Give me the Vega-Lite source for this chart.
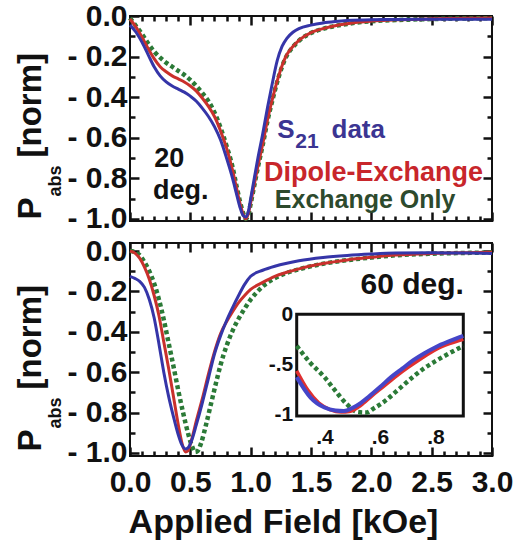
{
  "$schema": "https://vega.github.io/schema/vega-lite/v6.json",
  "padding": {"left": 13, "top": 0, "right": 5, "bottom": 5},
  "background": "white",
  "config": {
    "view": {"stroke": "#111", "strokeWidth": 2},
    "font": "Liberation Sans",
    "axis": {"domain": false, "grid": false, "zindex": 1, "labelFont": "Liberation Sans", "titleFont": "Liberation Sans", "labelFontWeight": "bold", "titleFontWeight": "bold", "labelColor": "#111", "titleColor": "#111", "tickColor": "#111", "tickWidth": 2.5, "labelOverlap": false, "labelFlush": false, "labelBound": false},
    "text": {"font": "Liberation Sans", "fontWeight": "bold"}
  },
  "datasets": {
    "top": [
      {"s":"S21","x":0.00,"y":-0.045},{"s":"S21","x":0.05,"y":-0.08},{"s":"S21","x":0.10,"y":-0.13},{"s":"S21","x":0.15,"y":-0.19},{"s":"S21","x":0.20,"y":-0.25},{"s":"S21","x":0.25,"y":-0.295},{"s":"S21","x":0.30,"y":-0.325},{"s":"S21","x":0.35,"y":-0.345},{"s":"S21","x":0.40,"y":-0.36},{"s":"S21","x":0.45,"y":-0.375},{"s":"S21","x":0.50,"y":-0.395},{"s":"S21","x":0.55,"y":-0.42},{"s":"S21","x":0.60,"y":-0.455},{"s":"S21","x":0.65,"y":-0.495},{"s":"S21","x":0.70,"y":-0.545},{"s":"S21","x":0.75,"y":-0.61},{"s":"S21","x":0.80,"y":-0.70},{"s":"S21","x":0.85,"y":-0.80},{"s":"S21","x":0.88,"y":-0.87},{"s":"S21","x":0.91,"y":-0.94},{"s":"S21","x":0.94,"y":-0.985},{"s":"S21","x":0.96,"y":-0.99},{"s":"S21","x":0.98,"y":-0.965},{"s":"S21","x":1.00,"y":-0.90},{"s":"S21","x":1.03,"y":-0.80},{"s":"S21","x":1.06,"y":-0.70},{"s":"S21","x":1.10,"y":-0.58},{"s":"S21","x":1.14,"y":-0.45},{"s":"S21","x":1.18,"y":-0.33},{"s":"S21","x":1.22,"y":-0.22},{"s":"S21","x":1.26,"y":-0.15},{"s":"S21","x":1.30,"y":-0.11},{"s":"S21","x":1.35,"y":-0.08},{"s":"S21","x":1.40,"y":-0.062},{"s":"S21","x":1.50,"y":-0.045},{"s":"S21","x":1.60,"y":-0.034},{"s":"S21","x":1.70,"y":-0.027},{"s":"S21","x":1.80,"y":-0.022},{"s":"S21","x":2.00,"y":-0.018},{"s":"S21","x":2.20,"y":-0.017},{"s":"S21","x":2.50,"y":-0.016},{"s":"S21","x":2.80,"y":-0.016},{"s":"S21","x":3.00,"y":-0.016},
      {"s":"DE","x":0.00,"y":-0.015},{"s":"DE","x":0.05,"y":-0.055},{"s":"DE","x":0.10,"y":-0.105},{"s":"DE","x":0.15,"y":-0.16},{"s":"DE","x":0.20,"y":-0.21},{"s":"DE","x":0.25,"y":-0.25},{"s":"DE","x":0.30,"y":-0.275},{"s":"DE","x":0.35,"y":-0.295},{"s":"DE","x":0.40,"y":-0.31},{"s":"DE","x":0.45,"y":-0.325},{"s":"DE","x":0.50,"y":-0.345},{"s":"DE","x":0.55,"y":-0.37},{"s":"DE","x":0.60,"y":-0.405},{"s":"DE","x":0.65,"y":-0.445},{"s":"DE","x":0.70,"y":-0.495},{"s":"DE","x":0.75,"y":-0.565},{"s":"DE","x":0.80,"y":-0.65},{"s":"DE","x":0.85,"y":-0.76},{"s":"DE","x":0.88,"y":-0.84},{"s":"DE","x":0.91,"y":-0.92},{"s":"DE","x":0.94,"y":-0.98},{"s":"DE","x":0.96,"y":-1.0},{"s":"DE","x":0.98,"y":-0.975},{"s":"DE","x":1.00,"y":-0.92},{"s":"DE","x":1.03,"y":-0.83},{"s":"DE","x":1.06,"y":-0.74},{"s":"DE","x":1.10,"y":-0.63},{"s":"DE","x":1.14,"y":-0.51},{"s":"DE","x":1.18,"y":-0.41},{"s":"DE","x":1.22,"y":-0.32},{"s":"DE","x":1.26,"y":-0.245},{"s":"DE","x":1.30,"y":-0.19},{"s":"DE","x":1.35,"y":-0.15},{"s":"DE","x":1.40,"y":-0.12},{"s":"DE","x":1.50,"y":-0.082},{"s":"DE","x":1.60,"y":-0.062},{"s":"DE","x":1.70,"y":-0.048},{"s":"DE","x":1.80,"y":-0.038},{"s":"DE","x":1.90,"y":-0.03},{"s":"DE","x":2.00,"y":-0.025},{"s":"DE","x":2.20,"y":-0.019},{"s":"DE","x":2.50,"y":-0.014},{"s":"DE","x":2.80,"y":-0.011},{"s":"DE","x":3.00,"y":-0.01},
      {"s":"EX","x":0.00,"y":-0.01},{"s":"EX","x":0.05,"y":-0.05},{"s":"EX","x":0.10,"y":-0.09},{"s":"EX","x":0.15,"y":-0.135},{"s":"EX","x":0.20,"y":-0.175},{"s":"EX","x":0.25,"y":-0.205},{"s":"EX","x":0.30,"y":-0.23},{"s":"EX","x":0.35,"y":-0.25},{"s":"EX","x":0.40,"y":-0.27},{"s":"EX","x":0.45,"y":-0.29},{"s":"EX","x":0.50,"y":-0.315},{"s":"EX","x":0.55,"y":-0.345},{"s":"EX","x":0.60,"y":-0.38},{"s":"EX","x":0.65,"y":-0.42},{"s":"EX","x":0.70,"y":-0.475},{"s":"EX","x":0.75,"y":-0.55},{"s":"EX","x":0.80,"y":-0.64},{"s":"EX","x":0.85,"y":-0.745},{"s":"EX","x":0.88,"y":-0.83},{"s":"EX","x":0.91,"y":-0.91},{"s":"EX","x":0.94,"y":-0.975},{"s":"EX","x":0.96,"y":-1.0},{"s":"EX","x":0.98,"y":-0.98},{"s":"EX","x":1.00,"y":-0.925},{"s":"EX","x":1.03,"y":-0.835},{"s":"EX","x":1.06,"y":-0.745},{"s":"EX","x":1.10,"y":-0.635},{"s":"EX","x":1.14,"y":-0.515},{"s":"EX","x":1.18,"y":-0.415},{"s":"EX","x":1.22,"y":-0.325},{"s":"EX","x":1.26,"y":-0.25},{"s":"EX","x":1.30,"y":-0.195},{"s":"EX","x":1.35,"y":-0.153},{"s":"EX","x":1.40,"y":-0.122},{"s":"EX","x":1.50,"y":-0.084},{"s":"EX","x":1.60,"y":-0.063},{"s":"EX","x":1.70,"y":-0.049},{"s":"EX","x":1.80,"y":-0.039},{"s":"EX","x":1.90,"y":-0.031},{"s":"EX","x":2.00,"y":-0.026},{"s":"EX","x":2.20,"y":-0.02},{"s":"EX","x":2.50,"y":-0.015},{"s":"EX","x":2.80,"y":-0.012},{"s":"EX","x":3.00,"y":-0.011}
    ],
    "bot": [
      {"s":"S21","x":0.00,"y":-0.125},{"s":"S21","x":0.04,"y":-0.135},{"s":"S21","x":0.08,"y":-0.15},{"s":"S21","x":0.12,"y":-0.18},{"s":"S21","x":0.16,"y":-0.24},{"s":"S21","x":0.20,"y":-0.33},{"s":"S21","x":0.24,"y":-0.46},{"s":"S21","x":0.28,"y":-0.60},{"s":"S21","x":0.32,"y":-0.72},{"s":"S21","x":0.36,"y":-0.82},{"s":"S21","x":0.40,"y":-0.91},{"s":"S21","x":0.43,"y":-0.96},{"s":"S21","x":0.46,"y":-0.98},{"s":"S21","x":0.48,"y":-0.975},{"s":"S21","x":0.51,"y":-0.94},{"s":"S21","x":0.55,"y":-0.86},{"s":"S21","x":0.60,"y":-0.75},{"s":"S21","x":0.65,"y":-0.63},{"s":"S21","x":0.70,"y":-0.51},{"s":"S21","x":0.75,"y":-0.42},{"s":"S21","x":0.80,"y":-0.345},{"s":"S21","x":0.85,"y":-0.28},{"s":"S21","x":0.90,"y":-0.22},{"s":"S21","x":0.95,"y":-0.165},{"s":"S21","x":1.00,"y":-0.125},{"s":"S21","x":1.10,"y":-0.095},{"s":"S21","x":1.20,"y":-0.075},{"s":"S21","x":1.30,"y":-0.06},{"s":"S21","x":1.40,"y":-0.048},{"s":"S21","x":1.60,"y":-0.032},{"s":"S21","x":1.80,"y":-0.022},{"s":"S21","x":2.00,"y":-0.015},{"s":"S21","x":2.20,"y":-0.01},{"s":"S21","x":2.50,"y":-0.008},{"s":"S21","x":2.80,"y":-0.01},{"s":"S21","x":3.00,"y":-0.012},
      {"s":"DE","x":0.00,"y":0.0},{"s":"DE","x":0.04,"y":-0.01},{"s":"DE","x":0.08,"y":-0.035},{"s":"DE","x":0.12,"y":-0.08},{"s":"DE","x":0.16,"y":-0.14},{"s":"DE","x":0.20,"y":-0.22},{"s":"DE","x":0.24,"y":-0.32},{"s":"DE","x":0.28,"y":-0.45},{"s":"DE","x":0.32,"y":-0.58},{"s":"DE","x":0.36,"y":-0.72},{"s":"DE","x":0.40,"y":-0.86},{"s":"DE","x":0.43,"y":-0.95},{"s":"DE","x":0.46,"y":-0.995},{"s":"DE","x":0.48,"y":-0.99},{"s":"DE","x":0.51,"y":-0.935},{"s":"DE","x":0.55,"y":-0.84},{"s":"DE","x":0.60,"y":-0.73},{"s":"DE","x":0.65,"y":-0.61},{"s":"DE","x":0.70,"y":-0.5},{"s":"DE","x":0.75,"y":-0.41},{"s":"DE","x":0.80,"y":-0.35},{"s":"DE","x":0.85,"y":-0.30},{"s":"DE","x":0.90,"y":-0.255},{"s":"DE","x":0.95,"y":-0.22},{"s":"DE","x":1.00,"y":-0.19},{"s":"DE","x":1.10,"y":-0.155},{"s":"DE","x":1.20,"y":-0.125},{"s":"DE","x":1.30,"y":-0.105},{"s":"DE","x":1.40,"y":-0.088},{"s":"DE","x":1.60,"y":-0.062},{"s":"DE","x":1.80,"y":-0.044},{"s":"DE","x":2.00,"y":-0.031},{"s":"DE","x":2.20,"y":-0.02},{"s":"DE","x":2.50,"y":-0.012},{"s":"DE","x":2.80,"y":-0.008},{"s":"DE","x":3.00,"y":-0.006},
      {"s":"EX","x":0.00,"y":0.0},{"s":"EX","x":0.04,"y":-0.005},{"s":"EX","x":0.08,"y":-0.02},{"s":"EX","x":0.12,"y":-0.055},{"s":"EX","x":0.16,"y":-0.10},{"s":"EX","x":0.20,"y":-0.16},{"s":"EX","x":0.24,"y":-0.24},{"s":"EX","x":0.28,"y":-0.34},{"s":"EX","x":0.32,"y":-0.455},{"s":"EX","x":0.36,"y":-0.57},{"s":"EX","x":0.40,"y":-0.69},{"s":"EX","x":0.44,"y":-0.80},{"s":"EX","x":0.48,"y":-0.90},{"s":"EX","x":0.51,"y":-0.96},{"s":"EX","x":0.54,"y":-0.995},{"s":"EX","x":0.56,"y":-0.99},{"s":"EX","x":0.59,"y":-0.95},{"s":"EX","x":0.63,"y":-0.86},{"s":"EX","x":0.67,"y":-0.76},{"s":"EX","x":0.71,"y":-0.66},{"s":"EX","x":0.75,"y":-0.565},{"s":"EX","x":0.80,"y":-0.47},{"s":"EX","x":0.85,"y":-0.395},{"s":"EX","x":0.90,"y":-0.335},{"s":"EX","x":0.95,"y":-0.285},{"s":"EX","x":1.00,"y":-0.24},{"s":"EX","x":1.05,"y":-0.205},{"s":"EX","x":1.10,"y":-0.175},{"s":"EX","x":1.20,"y":-0.135},{"s":"EX","x":1.30,"y":-0.108},{"s":"EX","x":1.40,"y":-0.09},{"s":"EX","x":1.60,"y":-0.063},{"s":"EX","x":1.80,"y":-0.045},{"s":"EX","x":2.00,"y":-0.032},{"s":"EX","x":2.20,"y":-0.021},{"s":"EX","x":2.50,"y":-0.013},{"s":"EX","x":2.80,"y":-0.009},{"s":"EX","x":3.00,"y":-0.007}
    ],
    "ins": [
      {"s":"DE","x":0.30,"y":-0.567},{"s":"DE","x":0.34,"y":-0.76},{"s":"DE","x":0.38,"y":-0.89},{"s":"DE","x":0.42,"y":-0.955},{"s":"DE","x":0.46,"y":-0.98},{"s":"DE","x":0.49,"y":-0.975},{"s":"DE","x":0.53,"y":-0.915},{"s":"DE","x":0.57,"y":-0.82},{"s":"DE","x":0.61,"y":-0.73},{"s":"DE","x":0.66,"y":-0.617},{"s":"DE","x":0.70,"y":-0.535},{"s":"DE","x":0.75,"y":-0.44},{"s":"DE","x":0.80,"y":-0.355},{"s":"DE","x":0.85,"y":-0.295},{"s":"DE","x":0.90,"y":-0.25},
      {"s":"S21","x":0.30,"y":-0.63},{"s":"S21","x":0.35,"y":-0.835},{"s":"S21","x":0.40,"y":-0.935},{"s":"S21","x":0.44,"y":-0.965},{"s":"S21","x":0.47,"y":-0.97},{"s":"S21","x":0.50,"y":-0.94},{"s":"S21","x":0.53,"y":-0.89},{"s":"S21","x":0.56,"y":-0.825},{"s":"S21","x":0.60,"y":-0.73},{"s":"S21","x":0.64,"y":-0.63},{"s":"S21","x":0.68,"y":-0.545},{"s":"S21","x":0.72,"y":-0.46},{"s":"S21","x":0.76,"y":-0.39},{"s":"S21","x":0.80,"y":-0.33},{"s":"S21","x":0.85,"y":-0.27},{"s":"S21","x":0.90,"y":-0.217},
      {"s":"EX","x":0.30,"y":-0.317},{"s":"EX","x":0.35,"y":-0.49},{"s":"EX","x":0.40,"y":-0.63},{"s":"EX","x":0.44,"y":-0.77},{"s":"EX","x":0.48,"y":-0.9},{"s":"EX","x":0.52,"y":-0.98},{"s":"EX","x":0.55,"y":-0.985},{"s":"EX","x":0.58,"y":-0.94},{"s":"EX","x":0.62,"y":-0.865},{"s":"EX","x":0.67,"y":-0.745},{"s":"EX","x":0.72,"y":-0.625},{"s":"EX","x":0.76,"y":-0.54},{"s":"EX","x":0.80,"y":-0.47},{"s":"EX","x":0.85,"y":-0.39},{"s":"EX","x":0.90,"y":-0.317}
    ]
  },
  "vconcat": [
    {
      "width": 362, "height": 205,
      "layer": [
        {
          "data": {"name": "top"}, "transform": [{"filter": "datum.s == 'EX'"}],
          "mark": {"type": "line", "color": "#2b7a37", "strokeWidth": 4.5, "strokeDash": [4, 3], "interpolate": "monotone"},
          "encoding": {
            "x": {"field": "x", "type": "quantitative", "scale": {"domain": [0, 3], "nice": false, "zero": false},
              "axis": {"orient": "bottom", "values": [0,0.5,1,1.5,2,2.5,3], "labels": false, "title": null, "tickSize": -9}},
            "y": {"field": "y", "type": "quantitative", "scale": {"domain": [-1.01, 0], "nice": false, "zero": false},
              "axis": {"orient": "left", "values": [0,-0.2,-0.4,-0.6,-0.8,-1],
                "labelExpr": "datum.value == 0 ? '0.0' : '- ' + format(-datum.value, '.1f')",
                "labelFontSize": 30, "labelPadding": 12, "tickSize": -9,
                "title": "P", "titleFontSize": 33, "titleAngle": -90, "titleAlign": "left", "titleBaseline": "alphabetic", "titleX": -90, "titleY": 203}}
          }
        },
        {
          "data": {"name": "top"}, "transform": [{"filter": "datum.s == 'DE'"}],
          "mark": {"type": "line", "color": "#c9302c", "strokeWidth": 3, "interpolate": "monotone"},
          "encoding": {
            "x": {"field": "x", "type": "quantitative",
              "axis": {"orient": "bottom", "values": [0.1,0.2,0.3,0.4,0.6,0.7,0.8,0.9,1.1,1.2,1.3,1.4,1.6,1.7,1.8,1.9,2.1,2.2,2.3,2.4,2.6,2.7,2.8,2.9], "labels": false, "title": null, "tickSize": -5}},
            "y": {"field": "y", "type": "quantitative",
              "axis": {"orient": "left", "values": [-0.1,-0.3,-0.5,-0.7,-0.9], "labels": false, "tickSize": -5,
                "title": "abs", "titleFontSize": 18, "titleAngle": -90, "titleAlign": "left", "titleBaseline": "alphabetic", "titleX": -70, "titleY": 180}}
          }
        },
        {
          "data": {"name": "top"}, "transform": [{"filter": "datum.s == 'S21'"}],
          "mark": {"type": "line", "color": "#3535a8", "strokeWidth": 3, "interpolate": "monotone"},
          "encoding": {
            "x": {"field": "x", "type": "quantitative",
              "axis": {"orient": "top", "values": [0,0.5,1,1.5,2,2.5,3], "labels": false, "title": null, "tickSize": -9}},
            "y": {"field": "y", "type": "quantitative",
              "axis": {"orient": "right", "values": [0,-0.2,-0.4,-0.6,-0.8,-1], "labels": false, "tickSize": -9,
                "title": "[norm]", "titleFontSize": 33, "titleAngle": -90, "titleAlign": "left", "titleBaseline": "alphabetic", "titleX": -452, "titleY": 141}}
          }
        },
        {
          "data": {"values": [{"t": "20", "x": 0.2, "y": -0.745}, {"t": "deg.", "x": 0.19, "y": -0.9}]},
          "mark": {"type": "text", "fontSize": 27, "color": "#111", "align": "left", "baseline": "alphabetic"},
          "encoding": {
            "x": {"field": "x", "type": "quantitative",
              "axis": {"orient": "top", "values": [0.1,0.2,0.3,0.4,0.6,0.7,0.8,0.9,1.1,1.2,1.3,1.4,1.6,1.7,1.8,1.9,2.1,2.2,2.3,2.4,2.6,2.7,2.8,2.9], "labels": false, "title": null, "tickSize": -5}},
            "y": {"field": "y", "type": "quantitative",
              "axis": {"orient": "right", "values": [-0.1,-0.3,-0.5,-0.7,-0.9], "labels": false, "title": null, "tickSize": -5}},
            "text": {"field": "t"}
          }
        },
        {
          "data": {"values": [{"t": "S", "x": 1.22, "y": -0.6}, {"t": "data", "x": 1.67, "y": -0.6}]},
          "mark": {"type": "text", "fontSize": 26, "color": "#3b3592", "align": "left", "baseline": "alphabetic"},
          "encoding": {
            "x": {"field": "x", "type": "quantitative", "axis": null},
            "y": {"field": "y", "type": "quantitative", "axis": null},
            "text": {"field": "t"}
          }
        },
        {
          "data": {"values": [{"t": "21", "x": 1.37, "y": -0.65}]},
          "mark": {"type": "text", "fontSize": 21, "color": "#3b3592", "align": "left", "baseline": "alphabetic"},
          "encoding": {
            "x": {"field": "x", "type": "quantitative", "axis": null},
            "y": {"field": "y", "type": "quantitative", "axis": null},
            "text": {"field": "t"}
          }
        },
        {
          "data": {"values": [{"t": "Dipole-Exchange", "x": 1.11, "y": -0.813}]},
          "mark": {"type": "text", "fontSize": 27, "color": "#c8262b", "align": "left", "baseline": "alphabetic"},
          "encoding": {
            "x": {"field": "x", "type": "quantitative", "axis": null},
            "y": {"field": "y", "type": "quantitative", "axis": null},
            "text": {"field": "t"}
          }
        },
        {
          "data": {"values": [{"t": "Exchange Only", "x": 1.2, "y": -0.945}]},
          "mark": {"type": "text", "fontSize": 25, "color": "#2d4a2d", "align": "left", "baseline": "alphabetic"},
          "encoding": {
            "x": {"field": "x", "type": "quantitative", "axis": null},
            "y": {"field": "y", "type": "quantitative", "axis": null},
            "text": {"field": "t"}
          }
        }
      ],
      "resolve": {"axis": {"x": "independent", "y": "independent"}}
    },
    {
      "width": 362, "height": 213,
      "layer": [
        {
          "layer": [
            {
              "data": {"name": "bot"}, "transform": [{"filter": "datum.s == 'EX'"}],
              "mark": {"type": "line", "color": "#2b7a37", "strokeWidth": 4.5, "strokeDash": [4, 3], "interpolate": "monotone"},
              "encoding": {
                "x": {"field": "x", "type": "quantitative", "scale": {"domain": [0, 3], "nice": false, "zero": false},
                  "axis": {"orient": "bottom", "values": [0,0.5,1,1.5,2,2.5,3], "format": ".1f",
                    "labelFontSize": 30, "labelPadding": 20, "tickSize": -9,
                    "title": "Applied Field [kOe]", "titleFontSize": 34, "titleX": 153, "titleY": 76, "titleAlign": "center", "titleBaseline": "alphabetic"}},
                "y": {"field": "y", "type": "quantitative", "scale": {"domain": [-1.015, 0.04], "nice": false, "zero": false},
                  "axis": {"orient": "left", "values": [0,-0.2,-0.4,-0.6,-0.8,-1],
                    "labelExpr": "datum.value == 0 ? '0.0' : '- ' + format(-datum.value, '.1f')",
                    "labelFontSize": 30, "labelPadding": 12, "tickSize": -9,
                    "title": "P", "titleFontSize": 33, "titleAngle": -90, "titleAlign": "left", "titleBaseline": "alphabetic", "titleX": -90, "titleY": 208}}
              }
            },
            {
              "data": {"name": "bot"}, "transform": [{"filter": "datum.s == 'DE'"}],
              "mark": {"type": "line", "color": "#c9302c", "strokeWidth": 3, "interpolate": "monotone"},
              "encoding": {
                "x": {"field": "x", "type": "quantitative",
                  "axis": {"orient": "bottom", "values": [0.1,0.2,0.3,0.4,0.6,0.7,0.8,0.9,1.1,1.2,1.3,1.4,1.6,1.7,1.8,1.9,2.1,2.2,2.3,2.4,2.6,2.7,2.8,2.9], "labels": false, "title": null, "tickSize": -5}},
                "y": {"field": "y", "type": "quantitative",
                  "axis": {"orient": "left", "values": [-0.1,-0.3,-0.5,-0.7,-0.9], "labels": false, "tickSize": -5,
                    "title": "abs", "titleFontSize": 18, "titleAngle": -90, "titleAlign": "left", "titleBaseline": "alphabetic", "titleX": -70, "titleY": 185}}
              }
            },
            {
              "data": {"name": "bot"}, "transform": [{"filter": "datum.s == 'S21'"}],
              "mark": {"type": "line", "color": "#3535a8", "strokeWidth": 3, "interpolate": "monotone"},
              "encoding": {
                "x": {"field": "x", "type": "quantitative",
                  "axis": {"orient": "top", "values": [0,0.5,1,1.5,2,2.5,3], "labels": false, "title": null, "tickSize": -9}},
                "y": {"field": "y", "type": "quantitative",
                  "axis": {"orient": "right", "values": [0,-0.2,-0.4,-0.6,-0.8,-1], "labels": false, "tickSize": -9,
                    "title": "[norm]", "titleFontSize": 33, "titleAngle": -90, "titleAlign": "left", "titleBaseline": "alphabetic", "titleX": -452, "titleY": 146}}
              }
            },
            {
              "data": {"values": [{"t": "60 deg.", "x": 1.91, "y": -0.212}]},
              "mark": {"type": "text", "fontSize": 30, "color": "#111", "align": "left", "baseline": "alphabetic"},
              "encoding": {
                "x": {"field": "x", "type": "quantitative",
                  "axis": {"orient": "top", "values": [0.1,0.2,0.3,0.4,0.6,0.7,0.8,0.9,1.1,1.2,1.3,1.4,1.6,1.7,1.8,1.9,2.1,2.2,2.3,2.4,2.6,2.7,2.8,2.9], "labels": false, "title": null, "tickSize": -5}},
                "y": {"field": "y", "type": "quantitative",
                  "axis": {"orient": "right", "values": [-0.1,-0.3,-0.5,-0.7,-0.9], "labels": false, "title": null, "tickSize": -5}},
                "text": {"field": "t"}
              }
            }
          ],
          "resolve": {"axis": {"x": "independent", "y": "independent"}}
        },
        {
          "layer": [
            {
              "data": {"values": [{"x0": 0.3, "x1": 0.9, "y0": -1.02, "y1": 0}]},
              "mark": {"type": "rect", "fill": "white", "stroke": "#111", "strokeWidth": 3},
              "encoding": {
                "x": {"field": "x0", "type": "quantitative", "scale": {"domain": [0.3, 0.9], "range": [166.7, 333.3], "nice": false, "zero": false},
                  "axis": {"orient": "bottom", "offset": -40, "values": [0.4, 0.6, 0.8],
                    "labelExpr": "'.' + round(datum.value*10)",
                    "labelFontSize": 21, "labelPadding": 17, "tickSize": -7, "title": null}},
                "x2": {"field": "x1"},
                "y": {"field": "y0", "type": "quantitative", "scale": {"domain": [-1.02, 0], "range": [173, 71.3], "nice": false, "zero": false},
                  "axis": {"orient": "left", "offset": -166.7, "values": [0, -0.25, -0.5, -0.75, -1],
                    "labelExpr": "datum.value == 0 ? '0' : datum.value == -0.5 ? '-.5' : datum.value == -1 ? '-1' : ''",
                    "labelFontSize": 21, "labelPadding": 10, "tickSize": -6, "title": null}},
                "y2": {"field": "y1"}
              }
            },
            {
              "data": {"name": "ins"}, "transform": [{"filter": "datum.s == 'EX'"}],
              "mark": {"type": "line", "color": "#2b7a37", "strokeWidth": 4.5, "strokeDash": [4, 3], "interpolate": "monotone"},
              "encoding": {
                "x": {"field": "x", "type": "quantitative",
                  "axis": {"orient": "bottom", "offset": -40, "values": [0.35, 0.45, 0.5, 0.55, 0.65, 0.7, 0.75, 0.85], "labels": false, "tickSize": -4, "title": null}},
                "y": {"field": "y", "type": "quantitative", "axis": null}
              }
            },
            {
              "data": {"name": "ins"}, "transform": [{"filter": "datum.s == 'DE'"}],
              "mark": {"type": "line", "color": "#e03030", "strokeWidth": 3.5, "interpolate": "monotone"},
              "encoding": {
                "x": {"field": "x", "type": "quantitative", "axis": null},
                "y": {"field": "y", "type": "quantitative", "axis": null}
              }
            },
            {
              "data": {"name": "ins"}, "transform": [{"filter": "datum.s == 'S21'"}],
              "mark": {"type": "line", "color": "#4545c8", "strokeWidth": 4, "interpolate": "monotone"},
              "encoding": {
                "x": {"field": "x", "type": "quantitative", "axis": null},
                "y": {"field": "y", "type": "quantitative", "axis": null}
              }
            }
          ],
          "resolve": {"axis": {"x": "independent", "y": "independent"}}
        }
      ],
      "resolve": {"scale": {"x": "independent", "y": "independent"}, "axis": {"x": "independent", "y": "independent"}}
    }
  ],
  "spacing": 0
}
